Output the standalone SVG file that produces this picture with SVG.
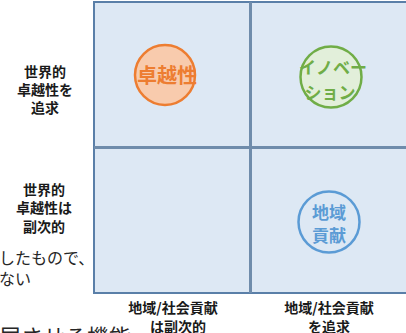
<svg xmlns="http://www.w3.org/2000/svg" width="406" height="333" viewBox="0 0 406 333">
<style>
text{font-family:"Noto Sans CJK JP","Noto Sans",sans-serif;}
.lbl{font-size:14px;font-weight:bold;fill:#1a1a1a;text-anchor:middle;}
.bg{font-size:16px;fill:#262626;}
.big{font-size:22px;fill:#262626;}
.ct{font-weight:bold;text-anchor:middle;}
</style>
<rect width="406" height="333" fill="#ffffff"/>
<g id="background-text">
<text class="bg" x="-1" y="264">したもので、</text>
<text class="bg" x="-1" y="285">ない</text>
<text class="big" x="-1" y="345">展させる機能</text>
</g>
<g id="grid">
<rect x="94" y="2" width="320" height="291" fill="#dde8f4" stroke="#5a7fa8" stroke-width="2"/>
<line x1="250.5" y1="2" x2="250.5" y2="293" stroke="#6f8cab" stroke-width="3"/>
<line x1="94" y1="147.5" x2="406" y2="147.5" stroke="#6f8cab" stroke-width="3"/>
</g>
<g id="labels">
<text class="lbl" x="45" y="77">世界的</text>
<text class="lbl" x="45" y="95">卓越性を</text>
<text class="lbl" x="45" y="113">追求</text>
<text class="lbl" x="44" y="195">世界的</text>
<text class="lbl" x="44" y="213">卓越性は</text>
<text class="lbl" x="44" y="232">副次的</text>
<text class="lbl" x="173" y="313">地域/社会貢献</text>
<text class="lbl" x="178" y="332">は副次的</text>
<text class="lbl" x="329" y="313">地域/社会貢献</text>
<text class="lbl" x="329" y="332">を追求</text>
</g>
<g id="node-excellence">
<circle cx="165" cy="75" r="30" fill="#f8cbad" stroke="#ed7d31" stroke-width="2.5"/>
<text class="ct" x="167" y="83" font-size="20" fill="#ed7d31">卓越性</text>
</g>
<g id="node-innovation">
<circle cx="331" cy="77" r="30.5" fill="#e2efda" stroke="#70ad47" stroke-width="2.5"/>
<text class="ct" x="333" y="74" font-size="17" fill="#70ad47">イノベー</text>
<text class="ct" x="330" y="99" font-size="17" fill="#70ad47">ション</text>
</g>
<g id="node-regional">
<circle cx="329" cy="222" r="30.5" fill="#dde8f4" stroke="#5b9bd5" stroke-width="2.5"/>
<text class="ct" x="329" y="219" font-size="17" fill="#5b9bd5">地域</text>
<text class="ct" x="329" y="242" font-size="17" fill="#5b9bd5">貢献</text>
</g>
<g id="connectors"></g>
</svg>
